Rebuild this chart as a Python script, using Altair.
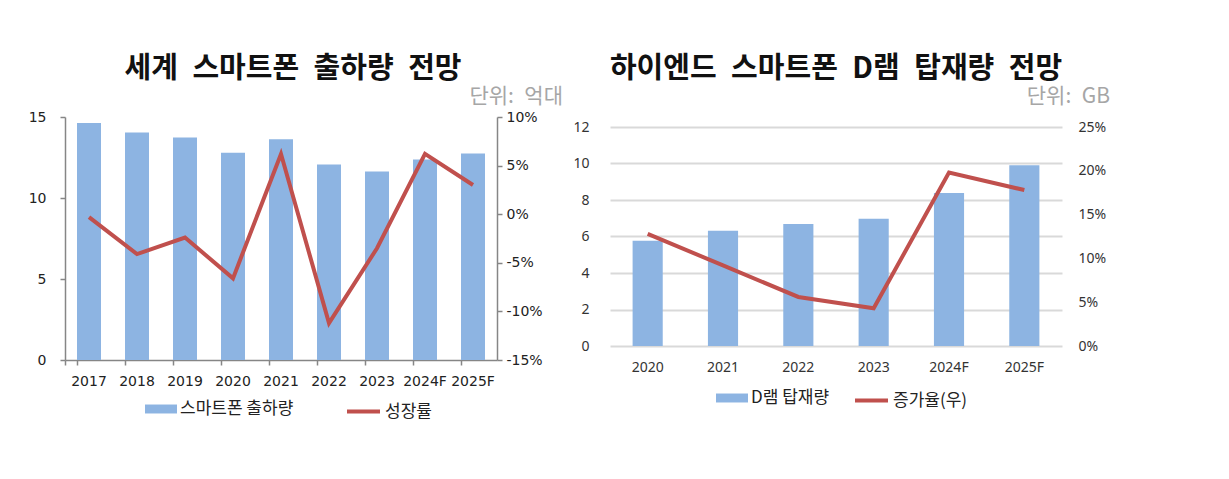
import altair as alt
import pandas as pd

KR = "Noto Sans CJK KR"
BLUE = "#8DB4E2"
RED = "#C0504D"

# ---------- left chart data ----------
title_a = "세계\u2002스마트폰\u2002출하량\u2002전망"
unit_a = "단위:\u2002억대"
years_a = ["2017", "2018", "2019", "2020", "2021", "2022", "2023", "2024F", "2025F"]
shipments = [14.63, 14.05, 13.74, 12.79, 13.62, 12.07, 11.64, 12.38, 12.75]
growth_a = [-0.3, -4.1, -2.4, -6.6, 6.2, -11.2, -3.5, 6.2, 3.0]
ticks_a_left = [0, 5, 10, 15]
ticks_a_right = [-15, -10, -5, 0, 5, 10]
bar_name_a = "스마트폰 출하량"
line_name_a = "성장률"

# ---------- right chart data ----------
title_b = "하이엔드\u2002스마트폰\u2002D램\u2002탑재량\u2002전망"
unit_b = "단위:\u2002GB"
years_b = ["2020", "2021", "2022", "2023", "2024F", "2025F"]
dram = [5.77, 6.32, 6.69, 6.97, 8.38, 9.91]
growth_b = [12.8, 9.2, 5.6, 4.3, 19.8, 17.8]
ticks_b_left = [0, 2, 4, 6, 8, 10, 12]
ticks_b_right = [0, 5, 10, 15, 20, 25]
bar_name_b = "D램 탑재량"
line_name_b = "증가율(우)"

df_a = pd.DataFrame({"year_a": years_a, "ship": shipments, "growth_a": growth_a,
                     "bar_a": bar_name_a, "line_a": line_name_a})
df_b = pd.DataFrame({"year_b": years_b, "dram": dram, "growth_b": growth_b,
                     "bar_b": bar_name_b, "line_b": line_name_b})

BAR_PATH = "M-1,-0.28H1V0.28H-1Z"


def bar_legend(lx, ly):
    return alt.Legend(title=None, orient="none", legendX=lx, legendY=ly,
                      symbolType=BAR_PATH, symbolSize=1024, symbolStrokeWidth=0,
                      symbolOpacity=1, labelFont=KR, labelFontSize=17, labelColor="#222",
                      labelOffset=3, labelLimit=300)


def line_legend(lx, ly):
    return alt.Legend(title=None, orient="none", legendX=lx, legendY=ly,
                      symbolType="stroke", symbolSize=1089, symbolStrokeWidth=4,
                      symbolOpacity=1, labelFont=KR, labelFontSize=17, labelColor="#222",
                      labelOffset=3, labelLimit=300)


# ---------- left panel ----------
W_A, H_A = 432, 243
x_a = alt.X("year_a:N", sort=years_a, title=None,
            scale=alt.Scale(paddingInner=0.5, paddingOuter=0.25),
            axis=alt.Axis(bandPosition=0, tickExtra=True,
                          labelAngle=0, domainColor="#868686", tickColor="#868686",
                          tickSize=5, domainWidth=1.5, tickWidth=1.5,
                          labelFont="DejaVu Sans", labelFontSize=14, labelColor="#222",
                          labelPadding=9))

bars_a = alt.Chart(df_a).mark_bar().encode(
    x=x_a,
    y=alt.Y("ship:Q", title=None, scale=alt.Scale(domain=[0, 15], nice=False),
            axis=alt.Axis(values=ticks_a_left, grid=False, domainColor="#868686",
                          tickColor="#868686", tickSize=5, domainWidth=1.5, tickWidth=1.5,
                          labelFont="DejaVu Sans", labelFontSize=14, labelColor="#222",
                          labelPadding=14)),
    fill=alt.Fill("bar_a:N", scale=alt.Scale(domain=[bar_name_a], range=[BLUE]),
                  legend=bar_legend(80, 276)),
)
line_a = alt.Chart(df_a).mark_line(strokeWidth=4).encode(
    x=alt.X("year_a:N", sort=years_a),
    y=alt.Y("growth_a:Q", title=None, scale=alt.Scale(domain=[-15, 10], nice=False),
            axis=alt.Axis(orient="right", values=ticks_a_right, grid=False,
                          labelExpr="datum.value + '%'", domainColor="#868686",
                          tickColor="#868686", tickSize=5, domainWidth=1.5, tickWidth=1.5,
                          labelFont="DejaVu Sans", labelFontSize=14, labelColor="#222",
                          labelPadding=4)),
    stroke=alt.Stroke("line_a:N", scale=alt.Scale(domain=[line_name_a], range=[RED]),
                      legend=line_legend(280, 276)),
)
unit_text_a = alt.Chart(pd.DataFrame({"t": [unit_a]})).mark_text(
    align="right", baseline="middle", font=KR, fontSize=21, color="#A6A6A6"
).encode(text="t:N", x=alt.value(W_A + 66), y=alt.value(-20))

left = alt.layer(bars_a, line_a, unit_text_a).resolve_scale(y="independent").properties(
    width=W_A, height=H_A,
    title=alt.TitleParams(title_a, font=KR, fontSize=29, fontWeight="bold", color="#111",
                          anchor="middle", offset=2, dx=12),
)

# ---------- right panel ----------
W_B, H_B = 452, 229
top_b = 12 * H_B / 219      # top gridline (12) sits 10px below the panel top
top_b_r = 25 * H_B / 219
x_b = alt.X("year_b:N", sort=years_b, title=None,
            scale=alt.Scale(paddingInner=0.6, paddingOuter=0.3),
            axis=alt.Axis(domain=False, ticks=False, labelAngle=0, labelFont="Noto Sans",
                          labelFontSize=14, labelColor="#333", labelPadding=14))

bars_b = alt.Chart(df_b).mark_bar().encode(
    x=x_b,
    y=alt.Y("dram:Q", title=None, scale=alt.Scale(domain=[0, top_b], nice=False),
            axis=alt.Axis(values=ticks_b_left, grid=True, gridColor="#D9D9D9", gridWidth=2,
                          domain=False, ticks=False, labelFont="Noto Sans", labelFontSize=14,
                          labelColor="#333", labelPadding=21)),
    fill=alt.Fill("bar_b:N", scale=alt.Scale(domain=[bar_name_b], range=[BLUE]),
                  legend=bar_legend(106, 265)),
)
line_b = alt.Chart(df_b).mark_line(strokeWidth=4).encode(
    x=alt.X("year_b:N", sort=years_b),
    y=alt.Y("growth_b:Q", title=None, scale=alt.Scale(domain=[0, top_b_r], nice=False),
            axis=alt.Axis(orient="right", values=ticks_b_right, grid=False, domain=False,
                          ticks=False, labelExpr="datum.value + '%'", labelFont="Noto Sans",
                          labelFontSize=14, labelColor="#333", labelPadding=16)),
    stroke=alt.Stroke("line_b:N", scale=alt.Scale(domain=[line_name_b], range=[RED]),
                      legend=line_legend(243, 265)),
)
unit_text_b = alt.Chart(pd.DataFrame({"t": [unit_b]})).mark_text(
    align="right", baseline="middle", font=KR, fontSize=21, color="#A6A6A6"
).encode(text="t:N", x=alt.value(W_B + 48), y=alt.value(-20))

right = alt.layer(bars_b, line_b, unit_text_b).resolve_scale(y="independent").properties(
    width=W_B, height=H_B,
    title=alt.TitleParams(title_b, font=KR, fontSize=29, fontWeight="bold", color="#111",
                          anchor="middle", offset=2),
)

chart = alt.hconcat(left, right, spacing=113, bounds="flush").resolve_scale(
    x="independent", y="independent", fill="independent", stroke="independent"
).properties(
    padding={"left": 20, "top": 47, "right": 5, "bottom": 5},
    background="white",
).configure_view(stroke=None)

chart.save("out.html", embed_options={"renderer": "svg", "actions": False})
